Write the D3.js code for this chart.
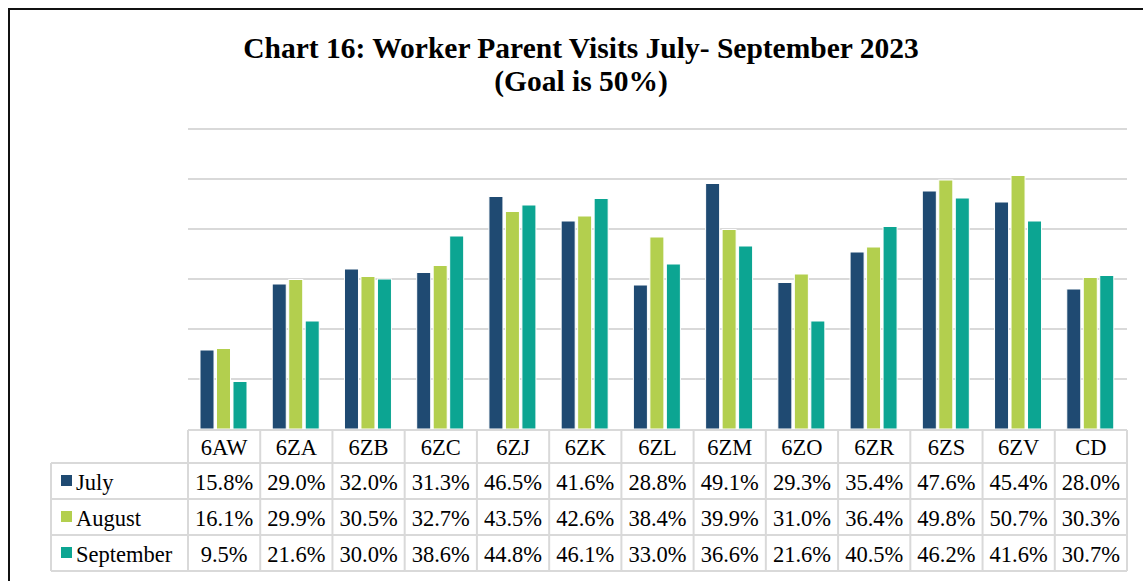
<!DOCTYPE html>
<html>
<head>
<meta charset="utf-8">
<script src="https://cdn.jsdelivr.net/npm/d3@7"></script>
<style>
	body { margin: 0; background: #fff; }
	svg { display: block; }
	text { font-family: 'Liberation Serif', 'Times New Roman', serif; fill: #000; }
</style>
</head>
<body>
<svg id="chart" width="1143" height="581"></svg>
<script>

// chart data
var categories = [ '6AW', '6ZA', '6ZB', '6ZC', '6ZJ', '6ZK', '6ZL', '6ZM', '6ZO', '6ZR', '6ZS', '6ZV', 'CD' ];
var seriesNames = [ 'July', 'August', 'September' ];
var julyValues = [ 15.8, 29.0, 32.0, 31.3, 46.5, 41.6, 28.8, 49.1, 29.3, 35.4, 47.6, 45.4, 28.0 ];
var augustValues = [ 16.1, 29.9, 30.5, 32.7, 43.5, 42.6, 38.4, 39.9, 31.0, 36.4, 49.8, 50.7, 30.3 ];
var septemberValues = [ 9.5, 21.6, 30.0, 38.6, 44.8, 46.1, 33.0, 36.6, 21.6, 40.5, 46.2, 41.6, 30.7 ];
var gridTicks = [ 0, 10, 20, 30, 40, 50, 60 ];
var titleLines = [ 'Chart 16: Worker Parent Visits July- September 2023', '(Goal is 50%)' ];

var seriesColors = [ '#1f4a72', '#b3cf4e', '#0ca592' ];
var seriesValues = [ julyValues, augustValues, septemberValues ];

var svg = d3.select( '#chart' ),
	width = +svg.attr( 'width' ),
	height = +svg.attr( 'height' );

// TODO - fix magic numbers
var plotLeft = 188,
	plotRight = 1127,
	plotBottom = 429,
	tableLeft = 51,
	headerBottom = 463,
	rowHeight = 36,
	tableFont = '22.5px';

// frame
svg.append( 'path' )
	.attr( 'd', 'M9,' + height + 'V9H' + width )
	.attr( 'fill', 'none' )
	.attr( 'stroke', '#111' )
	.attr( 'stroke-width', 2 );

// title
svg.selectAll( 'text.title' )
	.data( titleLines )
	.enter().append( 'text' )
	.attr( 'class', 'title' )
	.attr( 'x', 581 )
	.attr( 'y', function( _d, _i ) {
		return 58 + _i * 33;
	} )
	.attr( 'text-anchor', 'middle' )
	.style( 'font-size', '29.5px' )
	.style( 'font-weight', 'bold' )
	.text( function( _d ) {
		return _d;
	} );

var x = d3.scaleBand()
	.domain( categories )
	.range( [ plotLeft, plotRight ] );

var xInner = d3.scaleBand()
	.domain( seriesNames )
	.range( [ 12, 59 ] )
	.paddingInner( 0.15 );

var y = d3.scaleLinear()
	.domain( [ 0, 60 ] )
	.range( [ plotBottom, plotBottom - 300 ] );

// gridlines
svg.append( 'g' )
	.selectAll( 'line' )
	.data( gridTicks.slice( 1 ) )
	.enter().append( 'line' )
	.attr( 'x1', plotLeft )
	.attr( 'x2', plotRight )
	.attr( 'y1', function( _d ) {
		return y( _d );
	} )
	.attr( 'y2', function( _d ) {
		return y( _d );
	} )
	.attr( 'stroke', '#d9d9d9' )
	.attr( 'stroke-width', 2 );

// bars
var groups = svg.append( 'g' )
	.selectAll( 'g' )
	.data( categories )
	.enter().append( 'g' )
	.attr( 'transform', function( _d ) {
		return 'translate(' + x( _d ) + ',0)';
	} );

groups.selectAll( 'rect' )
	.data( function( _d, _i ) {
		return seriesNames.map( function( _s, _j ) {
			return { series: _s, value: seriesValues[ _j ][ _i ], color: seriesColors[ _j ] };
		} );
	} )
	.enter().append( 'rect' )
	.attr( 'x', function( _d ) {
		return xInner( _d.series );
	} )
	.attr( 'y', function( _d ) {
		return y( _d.value );
	} )
	.attr( 'width', xInner.bandwidth() )
	.attr( 'height', function( _d ) {
		return y( 0 ) - y( _d.value );
	} )
	.attr( 'fill', function( _d ) {
		return _d.color;
	} )
	.attr( 'stroke', '#fff' )
	.attr( 'stroke-width', 1 );

// data table
var table = svg.append( 'g' );
var gridColor = '#d9d9d9';
var tableBottom = headerBottom + rowHeight * seriesNames.length;

// horizontal lines
table.append( 'line' )
	.attr( 'x1', plotLeft ).attr( 'x2', plotRight )
	.attr( 'y1', plotBottom + 1 ).attr( 'y2', plotBottom + 1 )
	.attr( 'stroke', gridColor ).attr( 'stroke-width', 2 );

d3.range( seriesNames.length + 1 ).forEach( function( _i ) {
	var yy = headerBottom + _i * rowHeight;
	table.append( 'line' )
		.attr( 'x1', tableLeft ).attr( 'x2', plotRight )
		.attr( 'y1', yy ).attr( 'y2', yy )
		.attr( 'stroke', gridColor ).attr( 'stroke-width', 2 );
} );

// vertical lines
table.append( 'line' )
	.attr( 'x1', tableLeft ).attr( 'x2', tableLeft )
	.attr( 'y1', headerBottom ).attr( 'y2', tableBottom )
	.attr( 'stroke', gridColor ).attr( 'stroke-width', 2 );

categories.concat( [ null ] ).forEach( function( _c ) {
	var xx = _c === null ? plotRight : x( _c );
	table.append( 'line' )
		.attr( 'x1', xx ).attr( 'x2', xx )
		.attr( 'y1', plotBottom + 1 ).attr( 'y2', tableBottom )
		.attr( 'stroke', gridColor ).attr( 'stroke-width', 2 );
} );

// header labels
table.selectAll( 'text.cat' )
	.data( categories )
	.enter().append( 'text' )
	.attr( 'class', 'cat' )
	.attr( 'x', function( _d ) {
		return x( _d ) + x.bandwidth() / 2;
	} )
	.attr( 'y', 455 )
	.attr( 'text-anchor', 'middle' )
	.style( 'font-size', tableFont )
	.text( function( _d ) {
		return _d;
	} );

// series rows
seriesNames.forEach( function( _s, _j ) {
	var rowMid = headerBottom + _j * rowHeight + rowHeight / 2;

	table.append( 'rect' )
		.attr( 'x', 61 )
		.attr( 'y', rowMid - 6 )
		.attr( 'width', 11 )
		.attr( 'height', 11 )
		.attr( 'fill', seriesColors[ _j ] );

	table.append( 'text' )
		.attr( 'x', 76 )
		.attr( 'y', rowMid + 8.5 )
		.style( 'font-size', tableFont )
		.text( _s );

	table.selectAll( 'text.v' + _j )
		.data( seriesValues[ _j ] )
		.enter().append( 'text' )
		.attr( 'class', 'v' + _j )
		.attr( 'x', function( _d, _i ) {
			return x( categories[ _i ] ) + x.bandwidth() / 2;
		} )
		.attr( 'y', rowMid + 8.5 )
		.attr( 'text-anchor', 'middle' )
		.style( 'font-size', tableFont )
		.text( function( _d ) {
			return _d.toFixed( 1 ) + '%';
		} );
} );

</script>
</body>
</html>
